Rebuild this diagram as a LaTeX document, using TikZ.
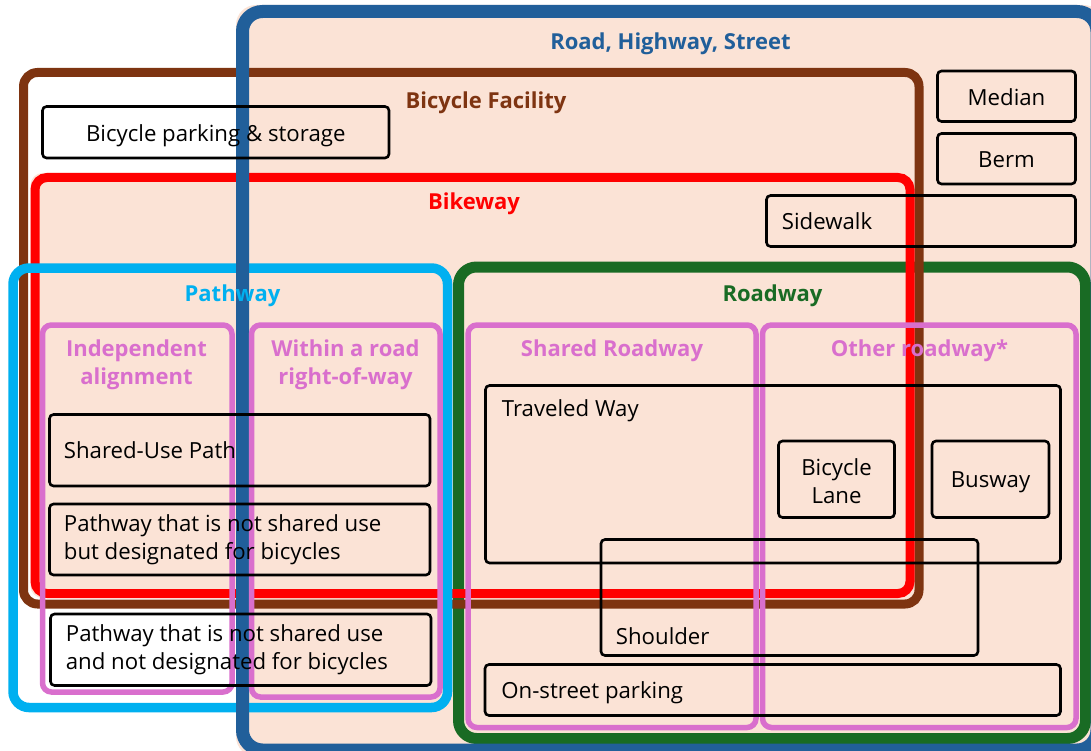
\documentclass[tikz,border=0pt]{standalone}
\usepackage{fontspec}
\setmainfont{Open Sans}
\usetikzlibrary{positioning,fit,backgrounds}
\definecolor{peach}{HTML}{FBE3D6}
\definecolor{roadblue}{HTML}{215F9A}
\definecolor{facbrown}{HTML}{7E3411}
\definecolor{bikered}{HTML}{FF0000}
\definecolor{pathcyan}{HTML}{00B0F0}
\definecolor{waygreen}{HTML}{196B24}
\definecolor{subpink}{HTML}{D96FCD}
\tikzset{%
  area/.style={rectangle,draw=#1,rounded corners=14pt,inner sep=0pt,line width=9pt},
  item/.style={rectangle,draw=black,rounded corners=4pt,inner sep=0pt,line width=2.6pt},
  title/.style={font=\bfseries\fontsize{22}{28}\selectfont,inner sep=0pt,align=center},
  txt/.style={font=\fontsize{22.2}{28}\selectfont,inner sep=0pt,align=left}%
}

\begin{document}
\begin{tikzpicture}[x=1pt,y=-1pt]
  \useasboundingbox (0,0) rectangle (1091,751);
  \clip (0,0) rectangle (1091,751);

  % big regions
  \node (roadway) [area=waygreen, line width=11pt, rounded corners=18pt, fit={(458.5,267) (1085.5,738.5)}] {};
  \node (facility) [area=facbrown, fit={(23.5,72.5) (919,604)}] {};
  \node (bikeway) [area=bikered, rounded corners=12pt, fit={(35,177.5) (910,593.5)}] {};
  \node (pathway) [area=pathcyan, line width=9.5pt, rounded corners=16pt, fit={(13,268) (447.5,707.5)}] {};
  \node (road) [area=roadblue, line width=13pt, rounded corners=20pt, fit={(242.5,11.5) (1097,750)}] {};

  \begin{scope}[on background layer]
    \fill[peach, rounded corners=20pt] (road.north west) rectangle (road.south east);
    \fill[peach, rounded corners=12pt] (bikeway.north west) rectangle (bikeway.south east);
  \end{scope}

  % sub regions
  \node (independent) [area=subpink, line width=5.5pt, rounded corners=9pt, fit={(42.5,325) (232,692)}] {};
  \node (within_row) [area=subpink, line width=5.5pt, rounded corners=9pt, fit={(251.5,325) (440,697)}] {};
  \node (shared_roadway) [area=subpink, line width=5.5pt, rounded corners=9pt, fit={(468,325) (756,727.5)}] {};
  \node (other_roadway) [area=subpink, line width=5.5pt, rounded corners=9pt, fit={(762.5,325) (1076,727.5)}] {};

  % items
  \node (parking) [item, fit={(42.5,106.5) (389,158)}] {};
  \node (median) [item, fit={(937.5,71) (1075.5,121.5)}] {};
  \node (berm) [item, fit={(937.5,133.5) (1075.5,184)}] {};
  \node (sidewalk) [item, fit={(766.5,195.5) (1075.5,246.5)}] {};
  \node (shared_use) [item, fit={(49.5,414.5) (430,486)}] {};
  \node (designated) [item, fit={(49.5,504) (430,575)}] {};
  \node (not_designated) [item, fit={(50.5,614) (431,685.5)}] {};
  \node (traveled) [item, fit={(485.5,385.5) (1060.5,563)}] {};
  \node (bike_lane) [item, fit={(778.5,441) (894.5,517.5)}] {};
  \node (busway) [item, fit={(932,441) (1049,517.5)}] {};
  \node (shoulder) [item, fit={(601,539.5) (978,655.5)}] {};
  \node (on_street) [item, fit={(485,664.5) (1060.5,715.5)}] {};

  % titles
  \node (road_t) [title, text=roadblue] at (670.5,43.5) {Road, Highway, Street};
  \node (facility_t) [title, text=facbrown] at (486,102.5) {Bicycle Facility};
  \node (bikeway_t) [title, text=bikered] at (474,204) {Bikeway};
  \node (pathway_t) [title, text=pathcyan] at (232.5,296) {Pathway};
  \node (roadway_t) [title, text=waygreen] at (772.5,296) {Roadway};
  \node (independent_t) [title, text=subpink] at (136.5,365) {Independent\\alignment};
  \node (within_row_t) [title, text=subpink] at (345.5,365) {Within a road\\right-of-way};
  \node (shared_roadway_t) [title, text=subpink] at (612,351) {Shared Roadway};
  \node (other_roadway_t) [title, text=subpink] at (919.5,351) {Other roadway*};

  % item texts
  \node (parking_t) [txt] at ([yshift=-3pt]parking) {Bicycle parking \& storage};
  \node (median_t) [txt] at ([yshift=-1pt]median) {Median};
  \node (berm_t) [txt] at ([yshift=-1pt]berm) {Berm};
  \node (sidewalk_t) [txt, right=16.5pt of sidewalk.west] {Sidewalk};
  \node (shared_use_t) [txt, right=15.5pt of shared_use.west] {Shared-Use Path};
  \node (designated_t) [txt, right=15.5pt of designated.west] {Pathway that is not shared use\\but designated for bicycles};
  \node (not_designated_t) [txt, right=16.5pt of not_designated.west] {Pathway that is not shared use\\and not designated for bicycles};
  \node (traveled_t) [txt, anchor=west] at ([xshift=17.5pt,yshift=-26.5pt]traveled.north west) {Traveled Way};
  \node (bike_lane_t) [txt, align=center] at ([yshift=-1.5pt]bike_lane) {Bicycle\\Lane};
  \node (busway_t) [txt] at ([yshift=-2.5pt]busway) {Busway};
  \node (shoulder_t) [txt, anchor=west] at ([xshift=16pt,yshift=20.5pt]shoulder.south west) {Shoulder};
  \node (on_street_t) [txt, anchor=west] at ([xshift=17.5pt,yshift=-2.5pt]on_street.west) {On-street parking};
\end{tikzpicture}
\end{document}
